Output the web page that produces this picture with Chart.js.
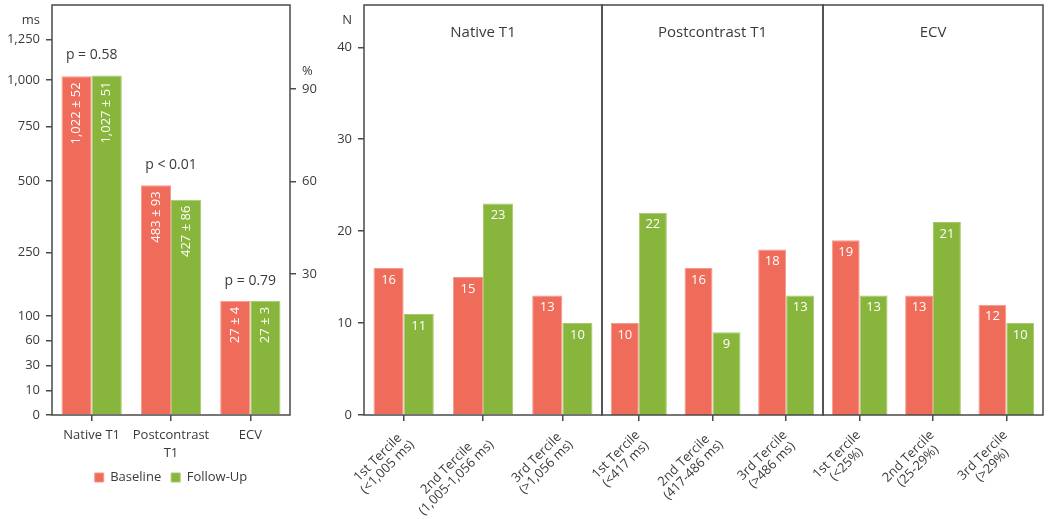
<!DOCTYPE html>
<html>
<head>
<meta charset="utf-8">
<script src="https://cdn.jsdelivr.net/npm/chart.js@4.4.0/dist/chart.umd.min.js"></script>
<style>
  html, body { margin: 0; padding: 0; background: #fff; }
  #wrap { position: relative; width: 1050px; height: 519px; overflow: hidden; }
  #wrap canvas { position: absolute; top: 0; }
</style>
</head>
<body>
<div id="wrap">
  <canvas id="summary" width="330" height="519" style="left:0"></canvas>
  <canvas id="tercA" width="283" height="519" style="left:320px"></canvas>
  <canvas id="tercB" width="284" height="519" style="left:540px"></canvas>
  <canvas id="tercC" width="290" height="519" style="left:760px"></canvas>
</div>
<script>
// left panel: mean values at baseline and follow-up
const categories = ['Native T1', ['Postcontrast', 'T1'], 'ECV'];
const units = ['ms', 'ms', '%'];
const baseline = [1022, 483, 27];
const baselineSD = [52, 93, 4];
const followUp = [1027, 427, 27];
const followUpSD = [51, 86, 3];
const pValues = ['p = 0.58', 'p < 0.01', 'p = 0.79'];
const msTicks = [0, 10, 30, 60, 100, 250, 500, 750, 1000, 1250];
const pctTicks = [30, 60, 90];

// right panels: number of patients per tercile
const panelTitles = ['Native T1', 'Postcontrast T1', 'ECV'];
const tercileLabels = [
  [['1st Tercile', '(<1,005 ms)'], ['2nd Tercile', '(1,005-1,056 ms)'], ['3rd Tercile', '(>1,056 ms)']],
  [['1st Tercile', '(<417 ms)'], ['2nd Tercile', '(417-486 ms)'], ['3rd Tercile', '(>486 ms)']],
  [['1st Tercile', '(<25%)'], ['2nd Tercile', '(25-29%)'], ['3rd Tercile', '(>29%)']]
];
const tercileBaseline = [[16, 15, 13], [10, 16, 18], [19, 13, 12]];
const tercileFollowUp = [[11, 23, 10], [22, 9, 13], [13, 21, 10]];
const nTicks = [0, 10, 20, 30, 40];

const RED = '#EF6B5A', RED_EDGE = '#F5998C';
const GREEN = '#88B53C', GREEN_EDGE = '#A6CA6A';
const AXIS = '#4a4a4a';
const TEXT = '#3a3a3a';
const FONT = '"Open Sans", sans-serif';

Chart.defaults.font.family = FONT;
Chart.defaults.font.size = 13;
Chart.defaults.color = TEXT;

// broken ms axis: equal steps up to 100, square-root spacing above
const lowTicks = msTicks.filter(t => t <= 100);
function msU(v) {
  if (v <= 100) {
    for (let i = 0; i < lowTicks.length - 1; i++) {
      if (v <= lowTicks[i + 1]) return i + (v - lowTicks[i]) / (lowTicks[i + 1] - lowTicks[i]);
    }
  }
  return (lowTicks.length - 1) + (Math.sqrt(v) - 10) * 0.441;
}
// % axis on the right side
function pctU(p) {
  const u30 = 5.70;
  return p >= 30 ? u30 + (p - 30) * 0.1245 : u30 * Math.pow(p / 30, 2);
}
const toU = (v, j) => units[j] === '%' ? pctU(v) : msU(v);

// keep tick labels from pushing the plot area around
function noPad(s) {
  s.paddingTop = 0; s.paddingBottom = 0; s.paddingLeft = 0; s.paddingRight = 0;
}

const frame = {
  id: 'frame',
  afterDraw(chart) {
    const a = chart.chartArea, ctx = chart.ctx;
    ctx.save();
    ctx.strokeStyle = AXIS;
    ctx.lineWidth = 1.5;
    ctx.strokeRect(a.left, a.top, a.right - a.left, a.bottom - a.top);
    ctx.restore();
  }
};

const summaryText = {
  id: 'summaryText',
  afterDraw(chart) {
    const ctx = chart.ctx;
    const sds = [baselineSD, followUpSD];
    ctx.save();
    ctx.font = '13px ' + FONT;
    ctx.fillStyle = '#fff';
    ctx.textAlign = 'right';
    ctx.textBaseline = 'middle';
    chart.data.datasets.forEach((ds, d) => {
      chart.getDatasetMeta(d).data.forEach((bar, j) => {
        const raw = d === 0 ? baseline[j] : followUp[j];
        ctx.save();
        ctx.translate(bar.x, bar.y + 6);
        ctx.rotate(-Math.PI / 2);
        ctx.fillText(raw.toLocaleString('en-US') + ' \u00b1 ' + sds[d][j], 0, 0);
        ctx.restore();
      });
    });
    ctx.fillStyle = TEXT;
    ctx.textAlign = 'center';
    ctx.font = '14px ' + FONT;
    const m0 = chart.getDatasetMeta(0).data, m1 = chart.getDatasetMeta(1).data;
    pValues.forEach((p, j) => {
      const x = (m0[j].x + m1[j].x) / 2;
      const y = Math.min(m0[j].y, m1[j].y) - 20;
      ctx.fillText(p, x, y);
    });
    ctx.font = '13px ' + FONT;
    ctx.textAlign = 'right';
    ctx.fillText('ms', chart.chartArea.left - 12, 20);
    ctx.textAlign = 'left';
    ctx.fillText('%', chart.chartArea.right + 12, 71);
    ctx.restore();
  }
};

new Chart(document.getElementById('summary'), {
  type: 'bar',
  data: {
    labels: categories,
    datasets: [
      { label: 'Baseline', data: baseline.map(toU), backgroundColor: RED, borderColor: RED_EDGE, borderWidth: 1,
        categoryPercentage: 0.76, barPercentage: 1 },
      { label: 'Follow-Up', data: followUp.map(toU), backgroundColor: GREEN, borderColor: GREEN_EDGE, borderWidth: 1,
        categoryPercentage: 0.76, barPercentage: 1 }
    ]
  },
  options: {
    responsive: false,
    animation: false,
    devicePixelRatio: 1,
    layout: { padding: { top: 5, left: 0, right: 0, bottom: 25 }, autoPadding: false },
    plugins: {
      tooltip: { enabled: false },
      legend: {
        position: 'bottom',
        fullSize: false,
        labels: { boxWidth: 9, boxHeight: 9, padding: 10, color: TEXT, font: { size: 13 } }
      }
    },
    scales: {
      x: {
        grid: { display: true, offset: false, drawOnChartArea: false, tickLength: 6, color: AXIS, lineWidth: 1.5 },
        border: { display: false },
        ticks: { padding: 6, maxRotation: 0, autoSkip: false, font: { size: 13, lineHeight: 1.35 } },
        afterFit: s => { s.height = 46; noPad(s); }
      },
      y: {
        min: 0, max: 16.57,
        grid: { display: true, drawOnChartArea: false, tickLength: 6, color: AXIS, lineWidth: 1.5 },
        border: { display: false },
        ticks: { padding: 6, autoSkip: false, callback: (v, i) => msTicks[i].toLocaleString('en-US') },
        afterBuildTicks: s => { s.ticks = msTicks.map(t => ({ value: msU(t) })); },
        afterFit: s => { s.width = 52; noPad(s); }
      },
      y2: {
        position: 'right',
        min: 0, max: 16.57,
        grid: { display: true, drawOnChartArea: false, tickLength: 6, color: AXIS, lineWidth: 1.5 },
        border: { display: false },
        ticks: { padding: 6, autoSkip: false, callback: (v, i) => String(pctTicks[i]) },
        afterBuildTicks: s => { s.ticks = pctTicks.map(t => ({ value: pctU(t) })); },
        afterFit: s => { s.width = 40; noPad(s); }
      }
    }
  },
  plugins: [frame, summaryText]
});

function tercileText(k, showN) {
  return {
    id: 'tercileText' + k,
    afterDraw(chart) {
      const ctx = chart.ctx, a = chart.chartArea, xs = chart.scales.x;
      ctx.save();
      ctx.textAlign = 'center';
      ctx.textBaseline = 'middle';
      ctx.fillStyle = TEXT;
      ctx.font = '15px ' + FONT;
      ctx.fillText(panelTitles[k], (a.left + a.right) / 2, a.top + 28);

      ctx.font = '13px ' + FONT;
      tercileLabels[k].forEach((lines, i) => {
        const x = xs.getPixelForValue(i);
        const maxW = Math.max(...lines.map(l => ctx.measureText(l).width));
        ctx.save();
        ctx.translate(x - 1, a.bottom + 18);
        ctx.rotate(-Math.PI / 4);
        lines.forEach((l, n) => ctx.fillText(l, -maxW / 2, n * 13.5));
        ctx.restore();
      });

      ctx.fillStyle = '#fff';
      chart.data.datasets.forEach((ds, d) => {
        chart.getDatasetMeta(d).data.forEach((bar, j) => {
          ctx.fillText(String(ds.data[j]), bar.x, bar.y + 12);
        });
      });

      if (showN) {
        ctx.fillStyle = TEXT;
        ctx.textAlign = 'right';
        ctx.fillText('N', a.left - 12, 20);
      }
      ctx.restore();
    }
  };
}

function tercileChart(id, k, pad, showY) {
  new Chart(document.getElementById(id), {
    type: 'bar',
    data: {
      labels: tercileLabels[k].map(l => l.join(' ')),
      datasets: [
        { label: 'Baseline', data: tercileBaseline[k], backgroundColor: RED, borderColor: RED_EDGE, borderWidth: 1,
          categoryPercentage: 0.76, barPercentage: 1 },
        { label: 'Follow-Up', data: tercileFollowUp[k], backgroundColor: GREEN, borderColor: GREEN_EDGE, borderWidth: 1,
          categoryPercentage: 0.76, barPercentage: 1 }
      ]
    },
    options: {
      responsive: false,
      animation: false,
      devicePixelRatio: 1,
      layout: { padding: { top: 5, left: pad[0], right: pad[1], bottom: 0 }, autoPadding: false },
      plugins: { legend: { display: false }, tooltip: { enabled: false } },
      scales: {
        x: {
          grid: { display: true, offset: false, drawOnChartArea: false, tickLength: 6, color: AXIS, lineWidth: 1.5 },
          border: { display: false },
          ticks: { display: false },
          afterFit: s => { s.height = 104; noPad(s); }
        },
        y: {
          display: showY,
          min: 0, max: 44.6,
          grid: { display: true, drawOnChartArea: false, tickLength: 6, color: AXIS, lineWidth: 1.5 },
          border: { display: false },
          ticks: { padding: 6, autoSkip: false, callback: (v, i) => String(nTicks[i]) },
          afterBuildTicks: s => { s.ticks = nTicks.map(t => ({ value: t })); },
          afterFit: s => { s.width = showY ? 44 : 0; noPad(s); }
        }
      }
    },
    plugins: [frame, tercileText(k, showY)]
  });
}

tercileChart('tercA', 0, [0, 1], true);
tercileChart('tercB', 1, [62, 1], false);
tercileChart('tercC', 2, [63, 7], false);
</script>
</body>
</html>
